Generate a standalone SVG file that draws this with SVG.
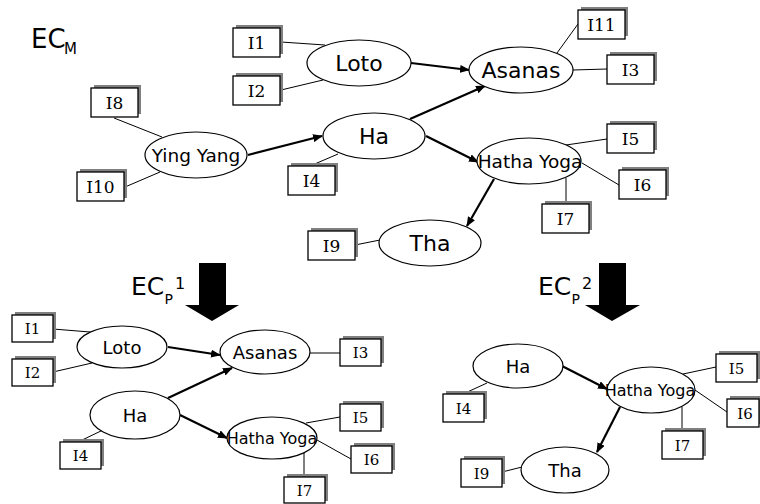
<svg xmlns="http://www.w3.org/2000/svg" width="760" height="504" viewBox="0 0 760 504">
<defs>
<marker id="ah" markerWidth="10" markerHeight="8" refX="9" refY="4" orient="auto" markerUnits="userSpaceOnUse">
<path d="M0,0 L10,4 L0,8 z" fill="#000"/>
</marker>
</defs>
<style>
.node ellipse{fill:#fff;stroke:#000;stroke-width:1.2}
.lbl{font-family:"DejaVu Sans",Verdana,sans-serif;text-anchor:middle;fill:#000}
.box .sh{fill:#808080}
.box .bx{fill:#fff;stroke:#000;stroke-width:1.3}
.btx{font-family:"DejaVu Serif",serif;text-anchor:middle;fill:#000}
.ln{stroke:#000;stroke-width:1;fill:none}
.ar{stroke:#000;stroke-width:2.2;fill:none;marker-end:url(#ah)}
.ec{font-family:"DejaVu Sans",Verdana,sans-serif;fill:#000}
</style>
<rect width="760" height="504" fill="#fff"/>

<!-- connectors -->
<g id="connectors">
<!-- top -->
<line class="ln" x1="281" y1="42" x2="325" y2="45"/>
<line class="ln" x1="281" y1="90" x2="323" y2="80"/>
<line class="ln" x1="114" y1="118" x2="162" y2="137"/>
<line class="ln" x1="125" y1="187" x2="160" y2="172"/>
<line class="ln" x1="310" y1="166" x2="338" y2="154"/>
<line class="ln" x1="355" y1="245" x2="380" y2="240"/>
<line class="ln" x1="578" y1="24" x2="557" y2="53"/>
<line class="ln" x1="573" y1="70" x2="607" y2="69"/>
<line class="ln" x1="566" y1="145" x2="607" y2="139"/>
<line class="ln" x1="582" y1="163" x2="619" y2="185"/>
<line class="ln" x1="566" y1="178" x2="566" y2="204"/>
<line class="ar" x1="248" y1="155" x2="322" y2="136"/>
<line class="ar" x1="411" y1="63" x2="469" y2="70"/>
<line class="ar" x1="410" y1="119" x2="485" y2="86"/>
<line class="ar" x1="426" y1="136" x2="478" y2="162"/>
<line class="ar" x1="494" y1="179" x2="467" y2="226"/>
<!-- bottom left -->
<line class="ln" x1="53" y1="329" x2="90" y2="332"/>
<line class="ln" x1="53" y1="372" x2="92" y2="363"/>
<line class="ln" x1="310" y1="353" x2="340" y2="353"/>
<line class="ln" x1="78" y1="442" x2="103" y2="430"/>
<line class="ln" x1="306" y1="423" x2="340" y2="417"/>
<line class="ln" x1="317" y1="440" x2="351" y2="459"/>
<line class="ln" x1="304" y1="453" x2="304" y2="477"/>
<line class="ar" x1="168" y1="347" x2="220" y2="355"/>
<line class="ar" x1="168" y1="398" x2="232" y2="368"/>
<line class="ar" x1="180" y1="415" x2="227" y2="438"/>
<!-- bottom right -->
<line class="ln" x1="463" y1="394" x2="487" y2="383"/>
<line class="ln" x1="683" y1="374" x2="716" y2="367"/>
<line class="ln" x1="695" y1="390" x2="727" y2="412"/>
<line class="ln" x1="682" y1="407" x2="682" y2="431"/>
<line class="ln" x1="502" y1="472" x2="522" y2="467"/>
<line class="ar" x1="562" y1="366" x2="607" y2="389"/>
<line class="ar" x1="620" y1="407" x2="597" y2="452"/>
</g>

<!-- big arrows -->
<g id="arrow1"><polygon points="199,263 226,263 226,305 239,305 212,321 185,305 199,305" fill="#000"/></g>
<g id="arrow2"><polygon points="599,263 626,263 626,305 640,305 612,321 585,305 599,305" fill="#000"/></g>

<!-- labels -->
<g id="ecm"><text class="ec" x="31" y="48" font-size="26">EC</text><text class="ec" x="64" y="54" font-size="15">M</text></g>
<g id="ecp1"><text class="ec" x="131" y="295" font-size="25">EC</text><text class="ec" x="164.5" y="304" font-size="14">P</text><text class="ec" x="175" y="289" font-size="16">1</text></g>
<g id="ecp2"><text class="ec" x="538" y="295" font-size="25">EC</text><text class="ec" x="571.5" y="304" font-size="14">P</text><text class="ec" x="582" y="289" font-size="16">2</text></g>

<!-- top nodes -->
<g id="loto" class="node"><ellipse cx="359" cy="63" rx="52" ry="23"/><text class="lbl" x="359" y="71" font-size="22">Loto</text></g>
<g id="yingyang" class="node"><ellipse cx="196" cy="155" rx="51" ry="23"/><text class="lbl" x="196" y="162" font-size="18.5">Ying Yang</text></g>
<g id="ha" class="node"><ellipse cx="374" cy="136" rx="51" ry="23"/><text class="lbl" x="374" y="144" font-size="22">Ha</text></g>
<g id="asanas" class="node"><ellipse cx="521" cy="70" rx="52" ry="23"/><text class="lbl" x="521" y="78" font-size="22">Asanas</text></g>
<g id="hathayoga" class="node"><ellipse cx="529" cy="161" rx="52" ry="23"/><text class="lbl" x="530" y="168" font-size="18.5">Hatha Yoga</text></g>
<g id="tha" class="node"><ellipse cx="430" cy="243" rx="51" ry="23"/><text class="lbl" x="430" y="251" font-size="22">Tha</text></g>

<!-- top boxes -->
<g id="b_i1" class="box"><rect class="sh" x="236" y="25" width="47" height="29"/><rect class="bx" x="233" y="28" width="47" height="29"/><text class="btx" x="256.5" y="48.5" font-size="17">I1</text></g>
<g id="b_i2" class="box"><rect class="sh" x="236" y="73" width="47" height="29"/><rect class="bx" x="233" y="76" width="47" height="29"/><text class="btx" x="256.5" y="96.5" font-size="17">I2</text></g>
<g id="b_i8" class="box"><rect class="sh" x="94" y="85" width="47" height="29"/><rect class="bx" x="91" y="88" width="47" height="29"/><text class="btx" x="114.5" y="108.5" font-size="17">I8</text></g>
<g id="b_i10" class="box"><rect class="sh" x="80" y="169" width="47" height="29"/><rect class="bx" x="77" y="172" width="47" height="29"/><text class="btx" x="100.5" y="192.5" font-size="17">I10</text></g>
<g id="b_i4" class="box"><rect class="sh" x="291" y="163" width="47" height="29"/><rect class="bx" x="288" y="166" width="47" height="29"/><text class="btx" x="311.5" y="186.5" font-size="17">I4</text></g>
<g id="b_i9" class="box"><rect class="sh" x="311" y="228" width="47" height="29"/><rect class="bx" x="308" y="231" width="47" height="29"/><text class="btx" x="331.5" y="251.5" font-size="17">I9</text></g>
<g id="b_i11" class="box"><rect class="sh" x="581" y="7" width="47" height="29"/><rect class="bx" x="578" y="10" width="47" height="29"/><text class="btx" x="601.5" y="30.5" font-size="17">I11</text></g>
<g id="b_i3" class="box"><rect class="sh" x="610" y="52" width="47" height="29"/><rect class="bx" x="607" y="55" width="47" height="29"/><text class="btx" x="630.5" y="75.5" font-size="17">I3</text></g>
<g id="b_i5" class="box"><rect class="sh" x="610" y="121" width="47" height="29"/><rect class="bx" x="607" y="124" width="47" height="29"/><text class="btx" x="630.5" y="144.5" font-size="17">I5</text></g>
<g id="b_i6" class="box"><rect class="sh" x="622" y="167" width="47" height="29"/><rect class="bx" x="619" y="170" width="47" height="29"/><text class="btx" x="642.5" y="190.5" font-size="17">I6</text></g>
<g id="b_i7" class="box"><rect class="sh" x="545" y="201" width="47" height="29"/><rect class="bx" x="542" y="204" width="47" height="29"/><text class="btx" x="565.5" y="224.5" font-size="17">I7</text></g>

<!-- bottom-left nodes -->
<g id="p1_loto" class="node"><ellipse cx="122" cy="347" rx="45" ry="21"/><text class="lbl" x="122" y="354" font-size="18">Loto</text></g>
<g id="p1_asanas" class="node"><ellipse cx="265" cy="352" rx="45" ry="22"/><text class="lbl" x="265" y="359" font-size="18">Asanas</text></g>
<g id="p1_ha" class="node"><ellipse cx="135" cy="415" rx="45" ry="24"/><text class="lbl" x="135" y="422" font-size="18">Ha</text></g>
<g id="p1_hathayoga" class="node"><ellipse cx="272" cy="438" rx="45" ry="21"/><text class="lbl" x="272" y="444" font-size="16">Hatha Yoga</text></g>
<g id="p1_b_i1" class="box"><rect class="sh" x="15" y="312" width="41" height="27"/><rect class="bx" x="12" y="315" width="41" height="27"/><text class="btx" x="32.5" y="333.5" font-size="15">I1</text></g>
<g id="p1_b_i2" class="box"><rect class="sh" x="15" y="356" width="41" height="27"/><rect class="bx" x="12" y="359" width="41" height="27"/><text class="btx" x="32.5" y="377.5" font-size="15">I2</text></g>
<g id="p1_b_i3" class="box"><rect class="sh" x="343" y="336" width="41" height="27"/><rect class="bx" x="340" y="339" width="41" height="27"/><text class="btx" x="360.5" y="357.5" font-size="15">I3</text></g>
<g id="p1_b_i4" class="box"><rect class="sh" x="63" y="439" width="41" height="27"/><rect class="bx" x="60" y="442" width="41" height="27"/><text class="btx" x="80.5" y="460.5" font-size="15">I4</text></g>
<g id="p1_b_i5" class="box"><rect class="sh" x="343" y="401" width="41" height="27"/><rect class="bx" x="340" y="404" width="41" height="27"/><text class="btx" x="360.5" y="422.5" font-size="15">I5</text></g>
<g id="p1_b_i6" class="box"><rect class="sh" x="354" y="443" width="41" height="27"/><rect class="bx" x="351" y="446" width="41" height="27"/><text class="btx" x="371.5" y="464.5" font-size="15">I6</text></g>
<g id="p1_b_i7" class="box"><rect class="sh" x="287" y="474" width="41" height="27"/><rect class="bx" x="284" y="477" width="41" height="26"/><text class="btx" x="304.5" y="495.5" font-size="15">I7</text></g>

<!-- bottom-right nodes -->
<g id="p2_ha" class="node"><ellipse cx="518" cy="366" rx="45" ry="22"/><text class="lbl" x="518" y="373" font-size="18">Ha</text></g>
<g id="p2_hathayoga" class="node"><ellipse cx="651" cy="390" rx="44" ry="23"/><text class="lbl" x="650" y="396" font-size="16">Hatha Yoga</text></g>
<g id="p2_tha" class="node"><ellipse cx="565" cy="470" rx="44" ry="23"/><text class="lbl" x="565" y="477" font-size="18">Tha</text></g>
<g id="p2_b_i4" class="box"><rect class="sh" x="446" y="391" width="41" height="28"/><rect class="bx" x="443" y="394" width="41" height="28"/><text class="btx" x="463.5" y="413.5" font-size="15">I4</text></g>
<g id="p2_b_i5" class="box"><rect class="sh" x="719" y="351" width="41" height="28"/><rect class="bx" x="716" y="354" width="41" height="28"/><text class="btx" x="736.5" y="373.5" font-size="15">I5</text></g>
<g id="p2_b_i6" class="box"><rect class="sh" x="730" y="396" width="41" height="28"/><rect class="bx" x="727" y="399" width="32" height="28"/><text class="btx" x="745" y="418.5" font-size="15">I6</text></g>
<g id="p2_b_i7" class="box"><rect class="sh" x="665" y="428" width="41" height="28"/><rect class="bx" x="662" y="431" width="41" height="28"/><text class="btx" x="682.5" y="450.5" font-size="15">I7</text></g>
<g id="p2_b_i9" class="box"><rect class="sh" x="464" y="456" width="41" height="28"/><rect class="bx" x="461" y="459" width="41" height="28"/><text class="btx" x="481.5" y="478.5" font-size="15">I9</text></g>
</svg>
